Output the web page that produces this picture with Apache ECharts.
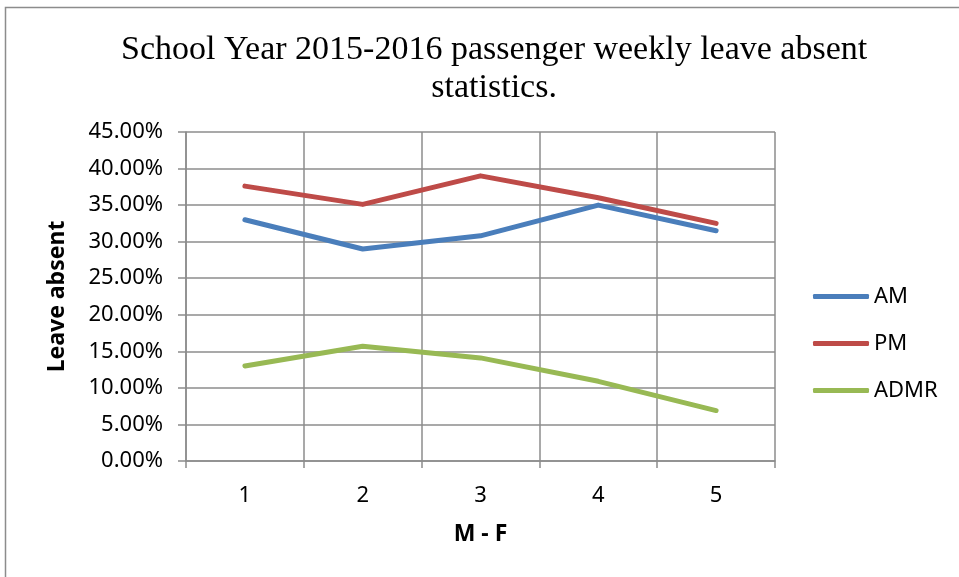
<!DOCTYPE html>
<html>
<head>
    <meta charset="utf-8">
    <title>ECharts</title>
    <script type="text/javascript" src="https://cdn.jsdelivr.net/npm/echarts@6/dist/echarts.min.js"></script>
    <style>
        html, body { margin: 0; padding: 0; background: #fff; }
    </style>
</head>
<body>
<div id="main" style="width: 959px;height:577px;"></div>

<script type="text/javascript">
    // data
    var days = ['1', '2', '3', '4', '5'];
    var am = [33.0, 29.0, 30.8, 35.0, 31.5];
    var pm = [37.6, 35.1, 39.0, 36.0, 32.5];
    var admr = [13.0, 15.7, 14.1, 10.9, 6.9];

    var chart = echarts.init(document.getElementById('main'));
    var labelFont = 'Noto Sans';
    var gridColor = '#8c8c8c';

    function lineSeries(name, data, color) {
        return {
            name: name,
            type: 'line',
            data: data,
            showSymbol: false,
            symbol: 'none',
            lineStyle: { width: 5, color: color, cap: 'round', join: 'round' },
            itemStyle: { color: color },
            animation: false
        };
    }

    var option = {
        backgroundColor: '#fff',
        animation: false,
        title: {
            text: 'School Year 2015-2016 passenger weekly leave absent\nstatistics.',
            left: '51%',
            textAlign: 'center',
            top: 26,
            textStyle: {
                fontFamily: 'Liberation Serif',
                fontWeight: 'normal',
                fontSize: 34,
                lineHeight: 38,
                color: '#000'
            }
        },
        graphic: [{
            type: 'rect',
            shape: { x: 5.5, y: 7.5, width: 1000, height: 1000 },
            style: { fill: 'none', stroke: '#8c8c8c', lineWidth: 1.5 },
            silent: true
        }],
        legend: {
            orient: 'vertical',
            left: 808,
            top: 280,
            icon: 'roundRect',
            itemWidth: 56,
            itemHeight: 5,
            itemGap: 24,
            textStyle: { fontFamily: labelFont, fontSize: 22, color: '#000', lineHeight: 23 },
            data: ['AM', 'PM', 'ADMR']
        },
        grid: { left: 186, right: 184, top: 132, bottom: 116 },
        xAxis: {
            type: 'category',
            data: days,
            boundaryGap: true,
            name: 'M - F',
            nameLocation: 'middle',
            nameGap: 62,
            nameTextStyle: { fontFamily: labelFont, fontWeight: 'bold', fontSize: 23, color: '#000' },
            axisLine: { lineStyle: { color: gridColor, width: 1.5 } },
            axisTick: { show: true, length: 7, lineStyle: { color: gridColor, width: 1.5 } },
            axisLabel: { margin: 24, fontFamily: labelFont, fontSize: 22, color: '#000' },
            splitLine: { show: true, lineStyle: { color: gridColor, width: 1.5 } }
        },
        yAxis: {
            type: 'value',
            min: 0,
            max: 45,
            interval: 5,
            name: 'Leave absent',
            nameLocation: 'middle',
            nameGap: 117,
            nameTextStyle: { fontFamily: labelFont, fontWeight: 'bold', fontSize: 23, color: '#000' },
            axisLine: { show: true, lineStyle: { color: gridColor, width: 1.5 } },
            axisTick: { show: true, length: 8, lineStyle: { color: gridColor, width: 1.5 } },
            axisLabel: {
                margin: 23,
                fontFamily: labelFont,
                fontSize: 22,
                color: '#000',
                formatter: function (v) { return v.toFixed(2) + '%'; }
            },
            splitLine: { show: true, lineStyle: { color: gridColor, width: 1.5 } }
        },
        series: [
            lineSeries('AM', am, '#4a7ebb'),
            lineSeries('PM', pm, '#be4b48'),
            lineSeries('ADMR', admr, '#98b954')
        ]
    };

    chart.setOption(option);
</script>
</body>
</html>
